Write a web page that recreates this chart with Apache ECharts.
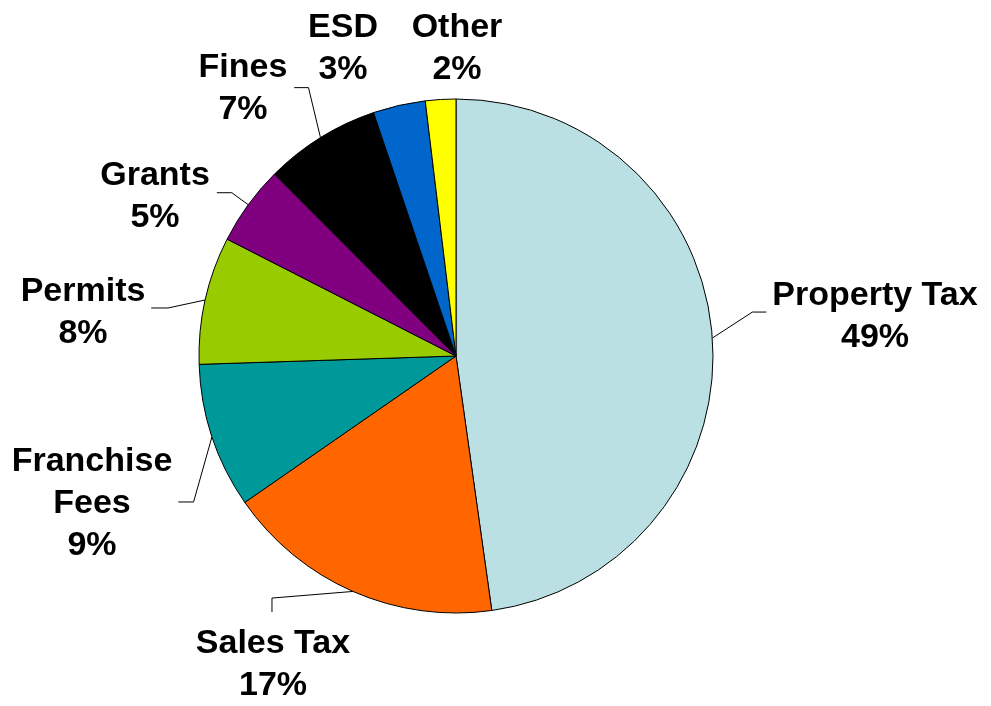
<!DOCTYPE html>
<html>
<head>
<meta charset="utf-8">
<script src="https://cdn.jsdelivr.net/npm/echarts@6/dist/echarts.min.js"></script>
<style>
html,body{margin:0;padding:0;background:#fff;}
#chart{width:991px;height:706px;}
</style>
</head>
<body>
<div id="chart"></div>
<script>
// Data
const categories = ['Property Tax', 'Sales Tax', 'Franchise Fees', 'Permits', 'Grants', 'Fines', 'ESD', 'Other'];
const labelNames = ['Property Tax', 'Sales Tax', 'Franchise\nFees', 'Permits', 'Grants', 'Fines', 'ESD', 'Other'];
const sliceValues = [47.78, 17.58, 9.13, 8.03, 5.01, 7.28, 3.29, 1.91];
const percentLabels = [49, 17, 9, 8, 5, 7, 3, 2];

// Styles / layout
const colors = ['#BBE0E3', '#FF6600', '#009999', '#99CC00', '#800080', '#000000', '#0066CC', '#FFFF00'];
const labelCenters = [
  [875, 317], [273, 665], [92, 504], [83, 313], [155, 197], [243, 89], [343, 49], [457, 49]
];
// leader line: elbow offset from slice edge point, then end offset from elbow
const leaderElbow = [[40, -26], [-81, 6.6], [-18.4, 65.3], [-37, 8], [-16.4, -12], [-12, -50], null, null];
const leaderEnd = [[14, 0], [0, 14], [-15.3, 0], [-17, 0], [-15, 0], [-14.3, 0], null, null];

const chart = echarts.init(document.getElementById('chart'));
const data = categories.map((c, i) => ({
  name: c,
  value: sliceValues[i],
  itemStyle: { color: colors[i] },
  labelLine: { show: leaderElbow[i] !== null }
}));

chart.setOption({
  animation: false,
  series: [{
    type: 'pie',
    center: [456, 356],
    radius: 257,
    startAngle: 90,
    clockwise: true,
    avoidLabelOverlap: false,
    data: data,
    itemStyle: { borderColor: '#000', borderWidth: 1 },
    label: {
      show: true,
      position: 'outside',
      fontFamily: '"Liberation Sans", Arial, sans-serif',
      fontWeight: 'bold',
      fontSize: 34,
      lineHeight: 42,
      color: '#000',
      formatter: p => labelNames[p.dataIndex] + '\n' + percentLabels[p.dataIndex] + '%'
    },
    labelLine: {
      show: true,
      lineStyle: { color: '#000', width: 1 }
    },
    emphasis: { disabled: true },
    labelLayout: function (params) {
      const i = params.dataIndex;
      const res = {
        x: labelCenters[i][0],
        y: labelCenters[i][1],
        align: 'center',
        verticalAlign: 'middle'
      };
      if (leaderElbow[i] && params.labelLinePoints) {
        const s = params.labelLinePoints[0];
        const e1 = [s[0] + leaderElbow[i][0], s[1] + leaderElbow[i][1]];
        const e2 = [e1[0] + leaderEnd[i][0], e1[1] + leaderEnd[i][1]];
        res.labelLinePoints = [s, e1, e2];
      }
      return res;
    }
  }]
});
</script>
</body>
</html>
